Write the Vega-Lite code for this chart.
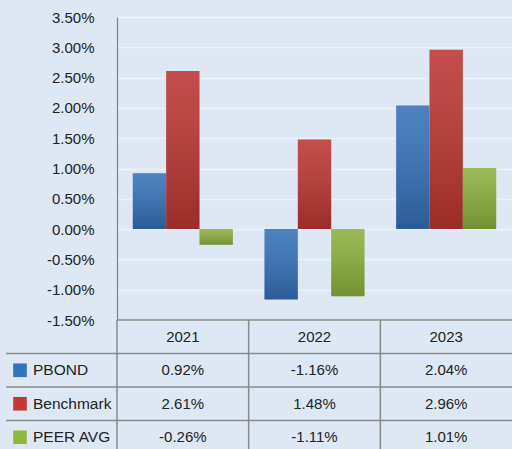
{
  "$schema": "https://vega.github.io/schema/vega-lite/v6.json",
  "width": 395,
  "height": 432,
  "padding": {"left": 117, "top": 17, "right": 0, "bottom": 0},
  "autosize": {"type": "none"},
  "background": "#dde8f4",
  "config": {
    "view": {"stroke": null},
    "locale": {"number": {"decimal": ".", "thousands": ",", "grouping": [3], "currency": ["$", ""], "minus": "-"}},
    "text": {"font": "Liberation Sans", "fontSize": 15, "color": "#222222"}
  },
  "datasets": {
    "rows": [
      {"year": "2021", "series": "PBOND", "value": 0.0092},
      {"year": "2021", "series": "Benchmark", "value": 0.0261},
      {"year": "2021", "series": "PEER AVG", "value": -0.0026},
      {"year": "2022", "series": "PBOND", "value": -0.0116},
      {"year": "2022", "series": "Benchmark", "value": 0.0148},
      {"year": "2022", "series": "PEER AVG", "value": -0.0111},
      {"year": "2023", "series": "PBOND", "value": 0.0204},
      {"year": "2023", "series": "Benchmark", "value": 0.0296},
      {"year": "2023", "series": "PEER AVG", "value": 0.0101}
    ],
    "series": [
      {"series": "PBOND"},
      {"series": "Benchmark"},
      {"series": "PEER AVG"}
    ],
    "years": [
      {"year": "2021"},
      {"year": "2022"},
      {"year": "2023"}
    ]
  },
  "resolve": {"scale": {"x": "independent", "y": "independent", "xOffset": "independent", "color": "independent"}},
  "layer": [
    {
      "data": {"name": "rows"},
      "mark": {"type": "bar"},
      "encoding": {
        "x": {"field": "year", "type": "nominal", "scale": {"paddingInner": 0.24, "paddingOuter": 0.12}, "axis": null},
        "xOffset": {"field": "series", "type": "nominal", "scale": {"domain": ["PBOND", "Benchmark", "PEER AVG"], "paddingInner": 0, "paddingOuter": 0}},
        "y": {"field": "value", "type": "quantitative",
          "scale": {"domain": [-0.015, 0.035], "range": [303, 0], "nice": false, "zero": false},
          "axis": {"title": null, "format": ".2%", "values": [-0.015, -0.01, -0.005, 0, 0.005, 0.01, 0.015, 0.02, 0.025, 0.03, 0.035],
            "ticks": false, "labelPadding": 23, "labelFont": "Liberation Sans", "labelFontSize": 15, "labelColor": "#222222",
            "domainColor": "#7f7f7f", "domainWidth": 1.2, "grid": true, "gridColor": "#ecf2f9", "gridWidth": 1.5}},
        "color": {"field": "series", "type": "nominal", "legend": null,
          "scale": {"domain": ["PBOND", "Benchmark", "PEER AVG"], "range": ["#3570b8", "#bb3532", "#8ab03d"]}}
      }
    },
    {
      "data": {"name": "rows"},
      "mark": {"type": "bar", "color": {"gradient": "linear", "x1": 0, "y1": 0, "x2": 0, "y2": 1,
        "stops": [{"offset": 0, "color": "rgba(255,255,255,0.12)"}, {"offset": 1, "color": "rgba(0,0,0,0.18)"}]}},
      "encoding": {
        "x": {"field": "year", "type": "nominal", "scale": {"paddingInner": 0.24, "paddingOuter": 0.12}, "axis": null},
        "xOffset": {"field": "series", "type": "nominal", "scale": {"domain": ["PBOND", "Benchmark", "PEER AVG"], "paddingInner": 0, "paddingOuter": 0}},
        "y": {"field": "value", "type": "quantitative", "scale": {"domain": [-0.015, 0.035], "range": [303, 0], "nice": false, "zero": false}, "axis": null}
      }
    },
    {
      "mark": {"type": "rule", "color": "#9a9a9a", "strokeWidth": 1.6},
      "encoding": {
        "y": {"datum": 0, "type": "quantitative", "scale": {"domain": [-0.015, 0.035], "range": [303, 0], "nice": false, "zero": false}, "axis": null}
      }
    },
    {
      "data": {"name": "years"},
      "mark": {"type": "rule", "color": "#8a8a8a", "strokeWidth": 1.5},
      "encoding": {
        "x": {"field": "year", "type": "nominal", "bandPosition": 0, "scale": {"type": "band", "paddingInner": 0, "paddingOuter": 0}, "axis": null},
        "y": {"datum": "header", "type": "nominal", "bandPosition": 0, "scale": {"type": "band", "domain": ["header", "PBOND", "Benchmark", "PEER AVG"], "range": [303, 437], "paddingInner": 0, "paddingOuter": 0}, "axis": null},
        "y2": {"datum": "PEER AVG", "bandPosition": 1}
      }
    },
    {
      "data": {"values": [{"row": "header"}, {"row": "PBOND"}, {"row": "Benchmark"}, {"row": "PEER AVG"}]},
      "mark": {"type": "rule", "color": "#8a8a8a", "strokeWidth": 1.5},
      "encoding": {
        "y": {"field": "row", "type": "nominal", "bandPosition": 0, "scale": {"type": "band", "domain": ["header", "PBOND", "Benchmark", "PEER AVG"], "range": [303, 437], "paddingInner": 0, "paddingOuter": 0}, "axis": null}
      }
    },
    {
      "data": {"name": "series"},
      "mark": {"type": "rule", "color": "#8a8a8a", "strokeWidth": 1.5},
      "encoding": {
        "x": {"datum": 0, "type": "quantitative", "scale": {"domain": [0, 1], "range": [-111, 0]}, "axis": null},
        "x2": {"datum": 1},
        "y": {"field": "series", "type": "nominal", "bandPosition": 0, "scale": {"type": "band", "domain": ["header", "PBOND", "Benchmark", "PEER AVG"], "range": [303, 437], "paddingInner": 0, "paddingOuter": 0}, "axis": null}
      }
    },
    {
      "mark": {"type": "rule", "color": "#8a8a8a", "strokeWidth": 1.5},
      "encoding": {
        "x": {"datum": 0, "type": "quantitative", "scale": {"domain": [0, 1], "range": [-111, 0]}, "axis": null},
        "y": {"datum": "PBOND", "type": "nominal", "bandPosition": 0, "scale": {"type": "band", "domain": ["header", "PBOND", "Benchmark", "PEER AVG"], "range": [303, 437], "paddingInner": 0, "paddingOuter": 0}, "axis": null},
        "y2": {"datum": "PEER AVG", "bandPosition": 1}
      }
    },
    {
      "data": {"name": "years"},
      "mark": {"type": "text", "align": "center", "baseline": "middle"},
      "encoding": {
        "x": {"field": "year", "type": "nominal", "scale": {"type": "band", "paddingInner": 0, "paddingOuter": 0}, "axis": null},
        "y": {"datum": "header", "type": "nominal", "scale": {"type": "band", "domain": ["header", "PBOND", "Benchmark", "PEER AVG"], "range": [303, 437], "paddingInner": 0, "paddingOuter": 0}, "axis": null},
        "text": {"field": "year"}
      }
    },
    {
      "data": {"name": "rows"},
      "mark": {"type": "text", "align": "center", "baseline": "middle"},
      "encoding": {
        "x": {"field": "year", "type": "nominal", "scale": {"type": "band", "paddingInner": 0, "paddingOuter": 0}, "axis": null},
        "y": {"field": "series", "type": "nominal", "scale": {"type": "band", "domain": ["header", "PBOND", "Benchmark", "PEER AVG"], "range": [303, 437], "paddingInner": 0, "paddingOuter": 0}, "axis": null},
        "text": {"field": "value", "type": "quantitative", "format": ".2%"}
      }
    },
    {
      "data": {"name": "series"},
      "mark": {"type": "point", "shape": "square", "filled": true, "size": 185, "opacity": 1, "xOffset": 14},
      "encoding": {
        "x": {"datum": 0, "type": "quantitative", "scale": {"domain": [0, 1], "range": [-111, 0]}, "axis": null},
        "y": {"field": "series", "type": "nominal", "scale": {"type": "band", "domain": ["header", "PBOND", "Benchmark", "PEER AVG"], "range": [303, 437], "paddingInner": 0, "paddingOuter": 0}, "axis": null},
        "color": {"field": "series", "type": "nominal", "legend": null,
          "scale": {"domain": ["PBOND", "Benchmark", "PEER AVG"], "range": ["#3572bd", "#c33835", "#8fb840"]}}
      }
    },
    {
      "data": {"name": "series"},
      "mark": {"type": "text", "align": "left", "baseline": "middle", "dx": 27, "fontSize": 15.5},
      "encoding": {
        "x": {"datum": 0, "type": "quantitative", "scale": {"domain": [0, 1], "range": [-111, 0]}, "axis": null},
        "y": {"field": "series", "type": "nominal", "scale": {"type": "band", "domain": ["header", "PBOND", "Benchmark", "PEER AVG"], "range": [303, 437], "paddingInner": 0, "paddingOuter": 0}, "axis": null},
        "text": {"field": "series"}
      }
    }
  ]
}
